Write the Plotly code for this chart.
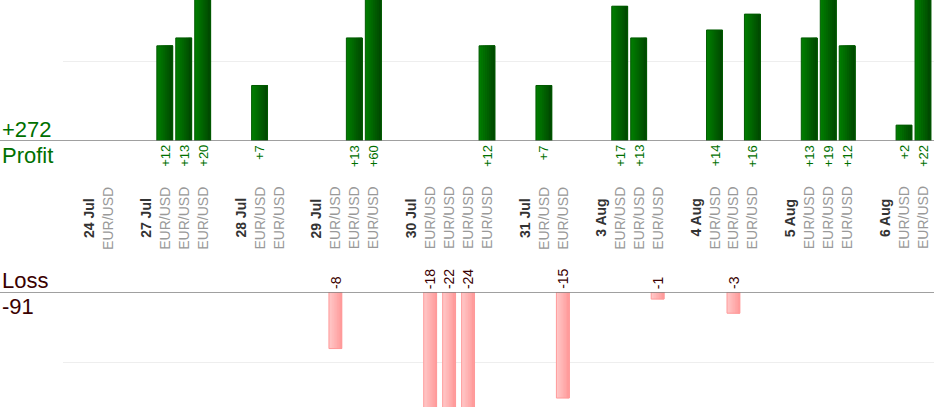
import plotly.graph_objects as go

# trading days and the pnl (pips) of each EUR/USD trade on that day
days = ["24 Jul", "27 Jul", "28 Jul", "29 Jul", "30 Jul", "31 Jul", "3 Aug", "4 Aug", "5 Aug", "6 Aug"]
pnl_by_day = [
    [None],
    [12, 13, 20],
    [7, None],
    [-8, 13, 60],
    [-18, -22, -24, 12],
    [7, -15],
    [17, 13, -1],
    [14, -3, 16],
    [13, 19, 12],
    [2, 22],
]
pair = "EUR/USD"

FONT = "Arial, Liberation Sans, sans-serif"
GREEN_TXT = "#007000"
LOSS_TXT = "#3a0000"

# lay the trades out in slots: date label, trades, blank gap
slot_labels = []
trade_x, trade_v = [], []
pos = 0
for day, vals in zip(days, pnl_by_day):
    slot_labels.append((pos, "<b>%s</b>" % day, "#333333"))
    pos += 1
    for v in vals:
        slot_labels.append((pos, pair, "#999999"))
        trade_x.append(pos)
        trade_v.append(v)
        pos += 1
    pos += 1

win_x = [x for x, v in zip(trade_x, trade_v) if v is not None and v > 0]
win_v = [v for v in trade_v if v is not None and v > 0]
loss_x = [x for x, v in zip(trade_x, trade_v) if v is not None and v < 0]
loss_v = [v for v in trade_v if v is not None and v < 0]


def mix(c1, c2, t):
    a = [int(c1[i:i + 2], 16) for i in (1, 3, 5)]
    b = [int(c2[i:i + 2], 16) for i in (1, 3, 5)]
    return "rgb(%d,%d,%d)" % tuple(round(a[i] + (b[i] - a[i]) * t) for i in range(3))


def gradient_bars(xs, ys, yaxis, w, c_left, c_right, edge, n=8):
    # stacked strips, each one running to the right edge, fake a left-to-right gradient
    out = []
    for k in range(n):
        out.append(go.Bar(x=xs, y=ys, yaxis=yaxis, width=w - k * w / n, offset=-w / 2 + k * w / n,
                          marker=dict(color=mix(c_left, c_right, k / (n - 1)), line=dict(width=0)),
                          hoverinfo="skip", showlegend=False))
    out.append(go.Bar(x=xs, y=ys, yaxis=yaxis, width=w, offset=-w / 2,
                      marker=dict(color="rgba(0,0,0,0)", line=dict(color=edge, width=1)),
                      showlegend=False))
    return out


fig = go.Figure()
for tr in gradient_bars(win_x, win_v, "y", 0.84, "#007c00", "#004a00", "#005a00"):
    fig.add_trace(tr)
for tr in gradient_bars(loss_x, loss_v, "y2", 0.68, "#ffc6c6", "#ff9c9c", "#ff9a9a"):
    fig.add_trace(tr)

ann = []
# value labels
for x, v in zip(win_x, win_v):
    ann.append(dict(x=x, y=0, xref="x", yref="y", text="+%d" % v, textangle=-90, showarrow=False,
                    xanchor="center", yanchor="top", yshift=-2,
                    font=dict(family=FONT, size=13, color=GREEN_TXT)))
for x, v in zip(loss_x, loss_v):
    ann.append(dict(x=x, y=0, xref="x", yref="y2", text="%d" % v, textangle=-90, showarrow=False,
                    xanchor="center", yanchor="bottom", yshift=1,
                    font=dict(family=FONT, size=14, color=LOSS_TXT)))
# category labels
for x, txt, col in slot_labels:
    ann.append(dict(x=x, y=1 - 218 / 420, xref="x", yref="paper", text=txt, textangle=-90,
                    showarrow=False, xanchor="center", yanchor="middle",
                    font=dict(family=FONT, size=14, color=col)))

# totals on the left
left = -63 / 871
ann += [
    dict(x=left, y=0, xref="paper", yref="y", text="+%d" % sum(win_v), showarrow=False, yshift=-3,
         xanchor="left", yanchor="bottom", font=dict(family=FONT, size=22, color=GREEN_TXT)),
    dict(x=left, y=0, xref="paper", yref="y", text="Profit", showarrow=False,
         xanchor="left", yanchor="top", font=dict(family=FONT, size=22, color=GREEN_TXT)),
    dict(x=left, y=0, xref="paper", yref="y2", text="Loss", showarrow=False, yshift=-3,
         xanchor="left", yanchor="bottom", font=dict(family=FONT, size=22, color=LOSS_TXT)),
    dict(x=left, y=0, xref="paper", yref="y2", text="%d" % sum(loss_v), showarrow=False,
         xanchor="left", yanchor="top", font=dict(family=FONT, size=22, color=LOSS_TXT)),
]

shapes = [
    dict(type="line", xref="paper", yref="y", x0=left, x1=1, y0=0, y1=0,
         line=dict(color="#808080", width=1.5)),
    dict(type="line", xref="paper", yref="y2", x0=left, x1=1, y0=0, y1=0,
         line=dict(color="#808080", width=1.5)),
]

fig.update_layout(
    width=934, height=420,
    margin=dict(l=63, r=0, t=0, b=0),
    paper_bgcolor="white", plot_bgcolor="white",
    barmode="overlay",
    showlegend=False,
    annotations=ann,
    shapes=shapes,
    xaxis=dict(range=[-1.37, 44.58], showgrid=False, zeroline=False, showticklabels=False,
               ticks="", fixedrange=True),
    yaxis=dict(domain=[1 - 141 / 420, 1], range=[0, 141 / 7.93], tickvals=[10], showticklabels=False,
               gridcolor="#eeeeee", zeroline=False, ticks=""),
    yaxis2=dict(domain=[1 - 407 / 420, 1 - 292 / 420], range=[-115 / 7.07, 0], tickvals=[-10],
                showticklabels=False, gridcolor="#eeeeee", zeroline=False, ticks="", anchor="x"),
)

# drop the page's default body margin so the chart sits at the window corner
fig.write_html("out.html", config={"displayModeBar": False},
               post_script="document.body.style.margin='0';")
